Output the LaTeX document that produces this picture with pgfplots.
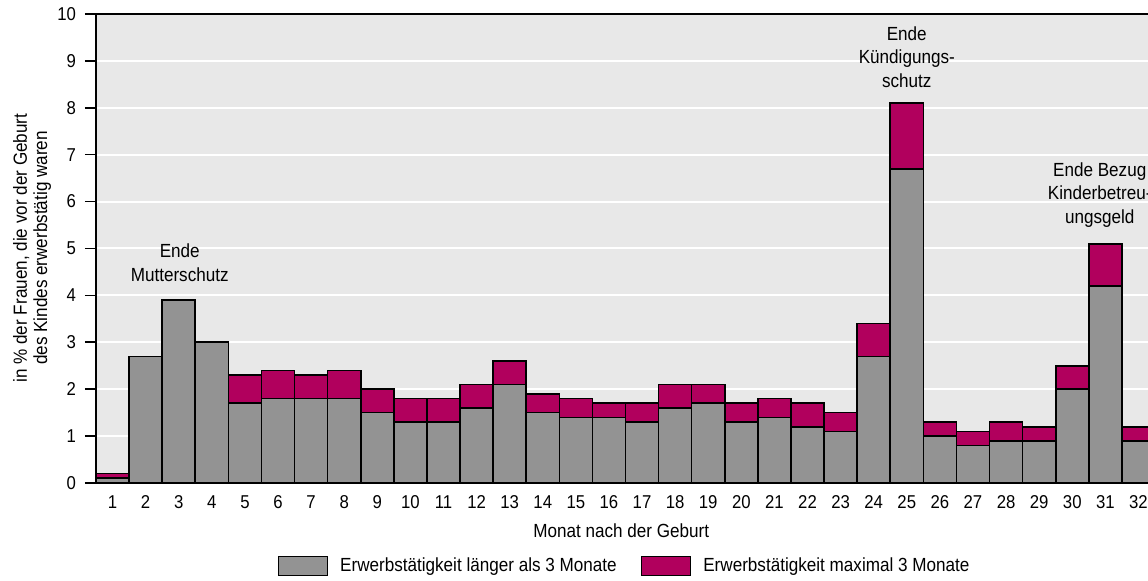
\documentclass[border=0pt]{standalone}
\usepackage{pgfplots}
\usepackage{pgfplotstable}
\pgfplotsset{compat=1.18}
\usepackage{fontspec}
\setmainfont{Liberation Sans}[FakeStretch=0.9]
\definecolor{bgc}{HTML}{E8E8E8}
\definecolor{grayb}{HTML}{939393}
\definecolor{magb}{HTML}{B1005D}
\pgfplotstableread{
m a b
1 0.1 0.1
2 2.7 0
3 3.9 0
4 3.0 0
5 1.7 0.6
6 1.8 0.6
7 1.8 0.5
8 1.8 0.6
9 1.5 0.5
10 1.3 0.5
11 1.3 0.5
12 1.6 0.5
13 2.1 0.5
14 1.5 0.4
15 1.4 0.4
16 1.4 0.3
17 1.3 0.4
18 1.6 0.5
19 1.7 0.4
20 1.3 0.4
21 1.4 0.4
22 1.2 0.5
23 1.1 0.4
24 2.7 0.7
25 6.7 1.4
26 1.0 0.3
27 0.8 0.3
28 0.9 0.4
29 0.9 0.3
30 2.0 0.5
31 4.2 0.9
32 0.9 0.3
}\data
\begin{document}
\begin{tikzpicture}[font=\fontsize{9.5}{11.8}\selectfont]
\begin{axis}[
  name=ax, at={(0,0)}, anchor=south west,
  scale only axis, width=529.5pt, height=234.5pt,
  xmin=0.5, xmax=32.5, ymin=0, ymax=10,
  ybar stacked, bar width=1,
  clip=false,
  axis line style={line width=1pt},
  axis background/.style={fill=bgc},
  ymajorgrids, grid style={white, line width=1pt},
  xtick={1,...,32}, ytick={0,...,10},
  xtick style={draw=none},
  ytick style={line width=0.8pt, black},
  tick align=outside, major tick length=5.5pt,
  /pgf/number format/assume math mode=true,
  tick label style={font=\fontsize{9.3}{11}\selectfont},
  xticklabel style={yshift=2.8pt},
  yticklabel style={xshift=-1pt},
  xlabel={Monat nach der Geburt},
  xlabel style={at={(axis description cs:0.496,-0.102)}, anchor=center},
  ylabel={in \% der Frauen, die vor der Geburt\\des Kindes erwerbstätig waren},
  ylabel style={at={(axis description cs:-0.0604,0.501)}, anchor=center, align=center,
    font=\fontsize{9.5}{10.2}\selectfont},
  legend columns=2,
  legend style={draw=none, fill=none, at={(0.5,-0.177)}, anchor=center,
    font=\fontsize{9.5}{11}\selectfont,
    /tikz/every odd column/.append style={column sep=4pt},
    /tikz/every even column/.append style={column sep=10pt}},
  legend cell align=left,
  mylegend/.style={legend image code/.code={\draw[##1,line width=0.8pt] (0pt,-4.75pt) rectangle (24.5pt,4.75pt);}},
]
\addplot[fill=grayb, draw=black, line width=0.8pt, mylegend] table[x=m,y=a]{\data};
\addlegendentry{Erwerbstätigkeit länger als 3 Monate}
\addplot[fill=magb, draw=black, line width=0.8pt, mylegend] table[x=m,y=b]{\data};
\addlegendentry{Erwerbstätigkeit maximal 3 Monate}
\node[align=center] at (axis cs:3.03,4.70) {Ende\\Mutterschutz};
\node[align=center] at (axis cs:25,9.08) {Ende\\Kündigungs-\\schutz};
\node[align=center] at (axis cs:30.83,6.14) {Ende Bezug\\Kinderbetreu-\\ungsgeld};
\end{axis}
\pgfresetboundingbox
\path[use as bounding box] (ax.south west) ++(-48pt,-49pt) rectangle ++(574pt,290.5pt);
\end{tikzpicture}
\end{document}
